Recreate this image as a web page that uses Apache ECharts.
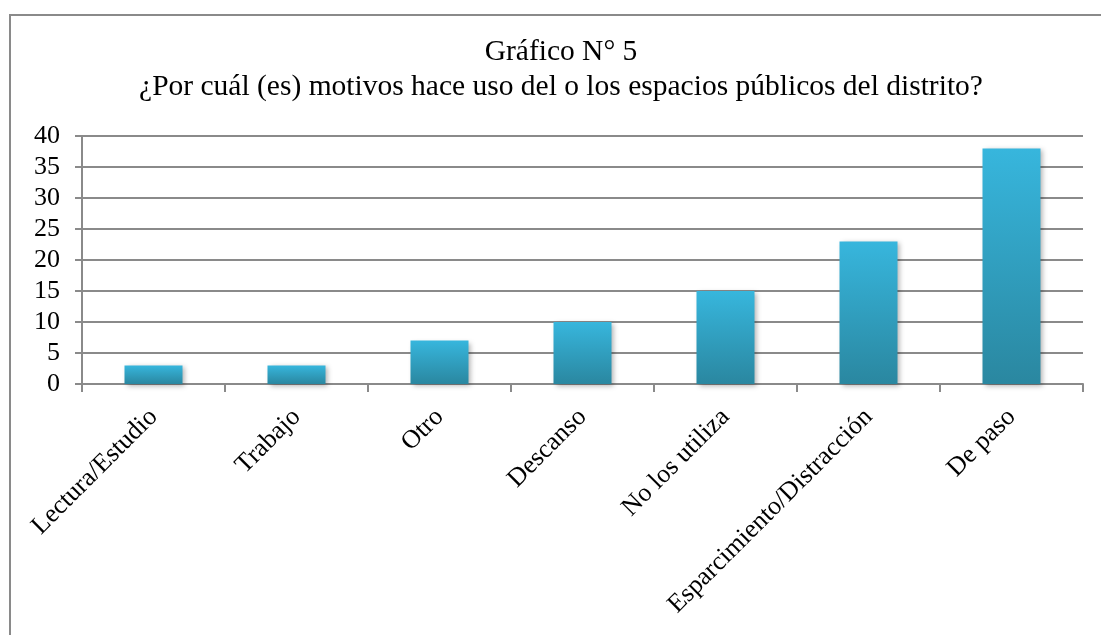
<!DOCTYPE html>
<html>
<head>
<meta charset="utf-8">
<script src="https://cdn.jsdelivr.net/npm/echarts@6/dist/echarts.min.js"></script>
<style>
html,body{margin:0;padding:0;background:#fff;}
#chart{width:1101px;height:635px;}
</style>
</head>
<body>
<div id="chart"></div>
<script>
const titleLine1 = 'Gráfico N° 5';
const titleLine2 = '¿Por cuál (es) motivos hace uso del o los espacios públicos del distrito?';
const categories = ['Lectura/Estudio', 'Trabajo', 'Otro', 'Descanso', 'No los utiliza', 'Esparcimiento/Distracción', 'De paso'];
const values = [3, 3, 7, 10, 15, 23, 38];
const yMin = 0, yMax = 40, yStep = 5;

const chart = echarts.init(document.getElementById('chart'));
const serif = '"Liberation Serif", "Times New Roman", serif';
chart.setOption({
  backgroundColor: '#fff',
  animation: false,
  graphic: [{
    type: 'rect',
    shape: { x: 10, y: 15, width: 1200, height: 800 },
    style: { fill: 'none', stroke: '#8a8a8a', lineWidth: 2 },
    silent: true
  }],
  title: {
    text: titleLine1 + '\n' + titleLine2,
    left: 556,
    textAlign: 'center',
    top: 30,
    textStyle: { fontFamily: serif, fontSize: 29.5, fontWeight: 'normal', color: '#000', lineHeight: 35 }
  },
  grid: { left: 82, right: 18, top: 136, bottom: 251, containLabel: false },
  xAxis: {
    type: 'category',
    data: categories,
    axisLine: { lineStyle: { color: '#8a8a8a', width: 2 } },
    axisTick: { show: true, alignWithLabel: false, length: 8, lineStyle: { color: '#8a8a8a', width: 2 } },
    axisLabel: { rotate: 45, fontFamily: serif, fontSize: 26, color: '#000', margin: 29, interval: 0 }
  },
  yAxis: {
    type: 'value',
    min: yMin, max: yMax, interval: yStep,
    axisLine: { show: true, lineStyle: { color: '#8a8a8a', width: 2 } },
    axisTick: { show: true, length: 7, lineStyle: { color: '#8a8a8a', width: 2 } },
    splitLine: { show: true, lineStyle: { color: '#8a8a8a', width: 2 } },
    axisLabel: { fontFamily: serif, fontSize: 26, color: '#000', margin: 22 }
  },
  series: [{
    type: 'bar',
    data: values,
    barWidth: 58,
    itemStyle: {
      color: new echarts.graphic.LinearGradient(0, 0, 0, 1, [
        { offset: 0, color: '#37b6dd' },
        { offset: 1, color: '#2a87a0' }
      ]),
      shadowColor: 'rgba(0,0,0,0.3)',
      shadowBlur: 5,
      shadowOffsetX: 2,
      shadowOffsetY: 2
    }
  }]
});
</script>
</body>
</html>
